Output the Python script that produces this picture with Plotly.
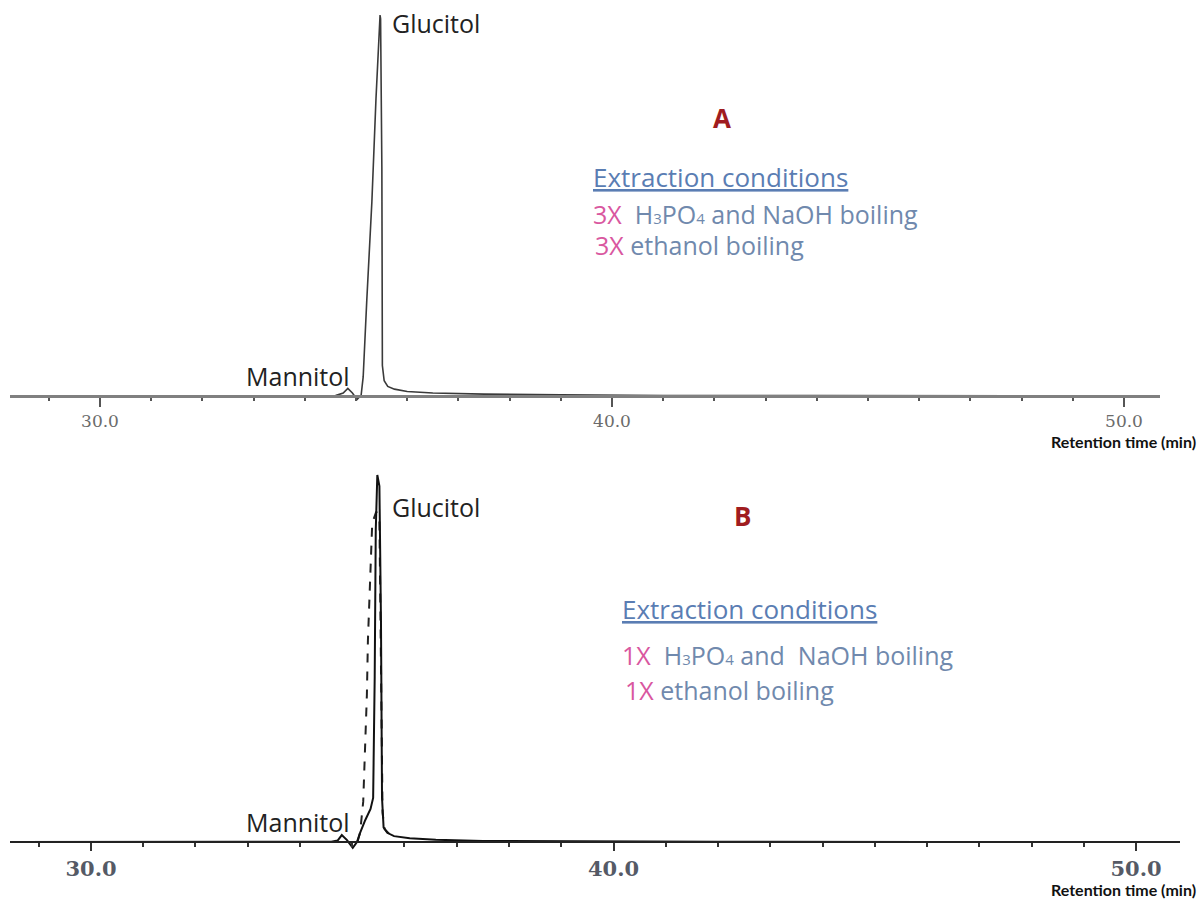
import plotly.graph_objects as go

# ---------------- data ----------------
# Panel A: retention time (min) and detector signal (relative units, peak = 100)
time_a = [28.24, 30.0, 32.0, 34.0, 34.60, 34.75, 34.84, 34.93, 35.02, 35.10,
          35.14, 35.21, 35.31, 35.39, 35.47, 35.48, 35.505, 35.515, 35.55,
          35.62, 35.75, 36.0, 36.5, 37.5, 39.0, 41.0, 44.0, 48.0, 50.70]
signal_a = [0, 0, 0, 0, 0.1, 0.8, 2.0, 0.8, -0.9, 0.2,
            5, 25, 51, 78, 100, 99, 60, 8, 4,
            2.5, 1.8, 1.2, 0.8, 0.5, 0.3, 0.1, 0.1, 0, 0]

# Panel B: solid trace
time_b = [28.45, 30.0, 33.0, 34.60, 34.72, 34.80, 34.90, 35.01, 35.09, 35.15,
          35.25, 35.35, 35.40, 35.43, 35.45, 35.48, 35.52, 35.55, 35.57,
          35.60, 35.67, 35.80, 36.10, 36.60, 37.50, 39.0, 42.0, 46.0, 50.84]
signal_b = [0, 0, 0, 0.1, 0.4, 1.9, 0.5, -1.6, 0, 2.5,
            6, 9, 12, 45, 85, 100, 97, 60, 12,
            4, 2.5, 1.6, 1.0, 0.6, 0.3, 0.2, 0.1, 0, 0]

# Panel B: dashed trace (overlaid run)
time_b_dash = [35.10, 35.15, 35.21, 35.25, 35.28, 35.30, 35.35, 35.38, 35.41,
               35.46, 35.52, 35.555, 35.58, 35.62, 35.70]
signal_b_dash = [0, 2.5, 11, 25, 40, 55, 75, 86, 88,
                 90, 88, 40, 8, 3.5, 2.3]

tick_vals = [30, 40, 50]
tick_text = ["30.0", "40.0", "50.0"]

W, H = 1202, 900


def px(x):
    return x / W


def py(y):
    return 1 - y / H


fig = go.Figure()
fig.add_trace(go.Scatter(x=time_a, y=signal_a, mode="lines", xaxis="x", yaxis="y",
                         line=dict(color="#3a3a3a", width=1.6), showlegend=False,
                         hoverinfo="skip"))
fig.add_trace(go.Scatter(x=time_b_dash, y=signal_b_dash, mode="lines", xaxis="x2", yaxis="y2",
                         line=dict(color="#222222", width=2, dash="dash"), showlegend=False,
                         hoverinfo="skip"))
fig.add_trace(go.Scatter(x=time_b, y=signal_b, mode="lines", xaxis="x2", yaxis="y2",
                         line=dict(color="#111111", width=2), showlegend=False,
                         hoverinfo="skip"))

# ---- axes: top panel (baseline at y=396 px, 51.2 px/min) ----
xa = dict(domain=[px(10), px(1160)], range=[28.242, 50.703], anchor="free",
          position=py(396), showgrid=False, zeroline=False, showline=True,
          linecolor="#808080", linewidth=2.5, ticks="outside", ticklen=9,
          tickwidth=2, tickcolor="#555555", tickmode="array", tickvals=tick_vals,
          ticktext=tick_text, ticklabelstandoff=0,
          tickfont=dict(family="DejaVu Serif", size=17, color="#6b6b6b"),
          minor=dict(dtick=1, tick0=0, ticks="outside", ticklen=3, tickwidth=2,
                     tickcolor="#555555"))
ya = dict(domain=[py(405), 1.0], range=[-(405 - 396) / 3.81, 396 / 3.81],
          visible=False, anchor="x", showgrid=False, zeroline=False)

# ---- axes: bottom panel (baseline at y=842 px, 52.25 px/min) ----
xb = dict(domain=[px(10), px(1180)], range=[28.450, 50.842], anchor="free",
          position=py(842), showgrid=False, zeroline=False, showline=True,
          linecolor="#222222", linewidth=2, ticks="outside", ticklen=8,
          tickwidth=2, tickcolor="#333333", tickmode="array", tickvals=tick_vals,
          ticktext=tick_text, ticklabelstandoff=0,
          tickfont=dict(family="DejaVu Serif", size=21, color="#555a66", weight="bold"),
          minor=dict(dtick=1, tick0=0, ticks="outside", ticklen=4, tickwidth=2,
                     tickcolor="#333333"))
yb = dict(domain=[py(850), py(440)], range=[-(850 - 842) / 3.67, (842 - 440) / 3.67],
          visible=False, anchor="x2", showgrid=False, zeroline=False)

label_font = dict(family="Open Sans", size=25, color="#222222")
cond_font = dict(family="Open Sans", size=25, color="#7089ad")
head_font = dict(family="Open Sans", size=26, color="#5a7db3", lineposition="under")
letter_font = dict(family="Open Sans", size=26, color="#a01c20", weight="bold")
rt_font = dict(family="Lato", size=16, color="#111111", weight="bold")
pink = "#d9579f"


def small(s):
    return f'<span style="font-size:15px">{s}</span>'


acid = f"H{small('3')}PO{small('4')}"

annotations = []


def note(text, x, y, font, xanchor="left"):
    annotations.append(dict(text=text, x=px(x), y=py(y), xref="paper", yref="paper",
                            xanchor=xanchor, yanchor="middle", showarrow=False, font=font))


# panel A
note("Glucitol", 390, 23, label_font)
note("Mannitol", 352, 376, label_font, xanchor="right")
note("A", 722, 118, letter_font, xanchor="center")
note("Extraction conditions", 591, 177, head_font)
note(f'<span style="color:{pink}">3X</span>  {acid} and NaOH boiling', 591, 214, cond_font)
note(f'<span style="color:{pink}">3X</span> ethanol boiling', 593, 245, cond_font)
note("Retention time (min)", 1198, 441, rt_font, xanchor="right")

# panel B
note("Glucitol", 390, 507, label_font)
note("Mannitol", 352, 822, label_font, xanchor="right")
note("B", 742, 516, letter_font, xanchor="center")
note("Extraction conditions", 620, 609, head_font)
note(f'<span style="color:{pink}">1X</span>  {acid} and  NaOH boiling', 620, 655, cond_font)
note(f'<span style="color:{pink}">1X</span> ethanol boiling', 623, 690, cond_font)
note("Retention time (min)", 1198, 889, rt_font, xanchor="right")

fig.update_layout(width=W, height=H, margin=dict(l=0, r=0, t=0, b=0),
                  paper_bgcolor="white", plot_bgcolor="white",
                  xaxis=xa, yaxis=ya, xaxis2=xb, yaxis2=yb,
                  annotations=annotations, showlegend=False)

fig.write_html("out.html")
